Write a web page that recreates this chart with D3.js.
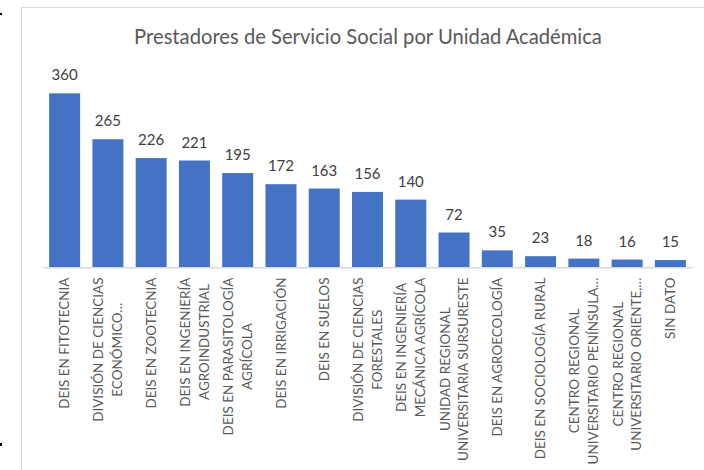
<!DOCTYPE html>
<html>
<head>
<meta charset="utf-8">
<script src="https://cdn.jsdelivr.net/npm/d3@7"></script>
<style>
  html, body { margin: 0; padding: 0; background: #fff; }
  svg { display: block; }
  text { font-family: Lato, "Open Sans", sans-serif; }
</style>
</head>
<body>
<script>
const title = "Prestadores de Servicio Social por Unidad Académica";
const categories = [
  "DEIS EN FITOTECNIA",
  "DIVISIÓN DE CIENCIAS\nECONÓMICO…",
  "DEIS EN ZOOTECNIA",
  "DEIS EN INGENIERÍA\nAGROINDUSTRIAL",
  "DEIS EN PARASITOLOGÍA\nAGRÍCOLA",
  "DEIS EN IRRIGACIÓN",
  "DEIS EN SUELOS",
  "DIVISIÓN DE CIENCIAS\nFORESTALES",
  "DEIS EN INGENIERÍA\nMECÁNICA AGRÍCOLA",
  "UNIDAD REGIONAL\nUNIVERSITARIA SURSURESTE",
  "DEIS EN AGROECOLOGÍA",
  "DEIS EN SOCIOLOGÍA RURAL",
  "CENTRO REGIONAL\nUNIVERSITARIO PENÍNSULA…",
  "CENTRO REGIONAL\nUNIVERSITARIO ORIENTE,…",
  "SIN DATO"
];
const values = [360, 265, 226, 221, 195, 172, 163, 156, 140, 72, 35, 23, 18, 16, 15];
const yDomain = [0, 400];

const W = 704, H = 470;
const svg = d3.select("body").append("svg").attr("width", W).attr("height", H);

// chart frame (extends beyond the cropped picture)
svg.append("rect").attr("x", 21.5).attr("y", 7.5).attr("width", 720).attr("height", 500)
  .attr("fill", "#fff").attr("stroke", "#d9d9d9").attr("stroke-width", 1);
// small crop artifacts at left edge
svg.append("rect").attr("x", 0).attr("y", 13).attr("width", 2).attr("height", 2).attr("fill", "#000");
svg.append("rect").attr("x", 0).attr("y", 443).attr("width", 2).attr("height", 3).attr("fill", "#000");

const x = d3.scaleBand().domain(categories).range([43, 692]).paddingInner(0.284).paddingOuter(0.142);
const y = d3.scaleLinear().domain(yDomain).range([267.3, 267.3 - 193.3]);

// title
svg.append("text").attr("x", 368).attr("y", 44).attr("text-anchor", "middle")
  .attr("font-size", 20.2).attr("fill", "#595959").text(title);

// bars
svg.append("g").selectAll("rect").data(values).join("rect")
  .attr("x", (d, i) => x(categories[i]))
  .attr("y", d => y(d))
  .attr("width", x.bandwidth())
  .attr("height", d => y(0) - y(d))
  .attr("fill", "#4472C4");

// value labels
svg.append("g").selectAll("text").data(values).join("text")
  .attr("x", (d, i) => x(categories[i]) + x.bandwidth() / 2)
  .attr("y", d => y(d) - 13)
  .attr("text-anchor", "middle")
  .attr("font-size", 15).attr("fill", "#404040")
  .text(d => d);

// axis line
const axis = d3.axisBottom(x).tickSize(0).tickFormat("");
const ag = svg.append("g").attr("transform", `translate(0,${y(0)})`).call(axis);
ag.select(".domain").attr("stroke", "#d9d9d9").attr("stroke-width", 1.5);

// category labels (rotated)
const fs = 13.5, lh = 18.5, capH = 0.7165 * fs, topY = 277.5;
categories.forEach((c, i) => {
  const lines = c.split("\n");
  const cx = x(c) + x.bandwidth() / 2;
  const g = svg.append("g").attr("transform", `translate(${cx},0) rotate(-90)`);
  const texts = lines.map((ln, j) => g.append("text")
    .attr("font-size", fs).attr("fill", "#595959")
    .attr("y", (j - (lines.length - 1) / 2) * lh + capH / 2)
    .text(ln));
  const maxW = d3.max(texts, t => t.node().getComputedTextLength());
  texts.forEach(t => t.attr("text-anchor", "middle").attr("x", -(topY + maxW / 2)));
});
</script>
</body>
</html>
